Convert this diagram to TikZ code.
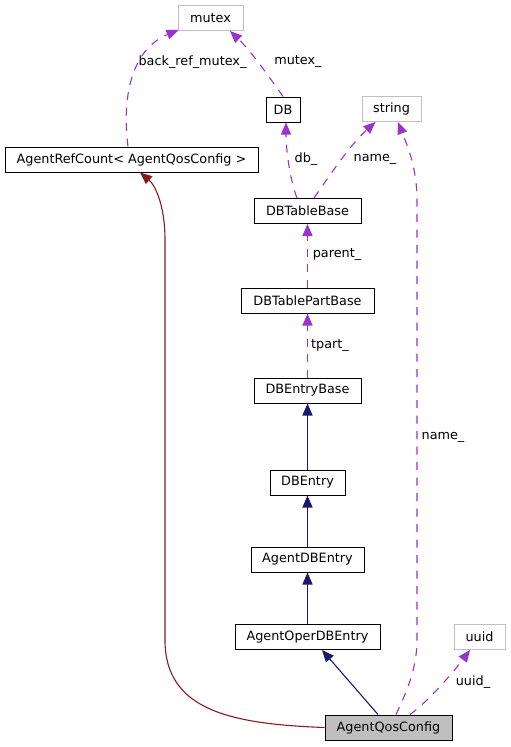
\documentclass[tikz,border=0pt]{standalone}
\usepackage{fontspec}
\setmainfont{DejaVu Sans}
\usetikzlibrary{arrows.meta}
\definecolor{navyedge}{HTML}{191970}
\definecolor{purpleedge}{HTML}{9A32CD}
\definecolor{rededge}{HTML}{8B1A1A}
\definecolor{graybox}{HTML}{BFBFBF}
\begin{document}
\begin{tikzpicture}[x=1pt,y=-1pt,
  font=\fontsize{12.8}{15}\selectfont,
  cls/.style={draw=black,line width=1pt,fill=white,inner sep=0pt,minimum height=25pt},
  ext/.style={draw=graybox,line width=1pt,fill=white,inner sep=0pt,minimum height=25pt},
  focus/.style={draw=black,line width=1pt,fill=graybox,inner sep=0pt,minimum height=25pt},
  tipstyle/.style={-{Triangle[length=12pt,width=10pt]}},
  inherit/.style={tipstyle,color=navyedge,line width=1.1pt},
  uses/.style={tipstyle,color=purpleedge,line width=1.1pt,dash pattern=on 8pt off 7.5pt},
  priv/.style={tipstyle,color=rededge,line width=1.1pt},
  vert/.style={line width=1.5pt},
  lbl/.style={inner sep=0pt,anchor=center}]
\useasboundingbox (0,0) rectangle (511,747);
\node[ext,minimum width=65pt] (mutex) at (210.5,18) {mutex};
\node[cls,minimum width=34pt] (db) at (283,109.5) {DB};
\node[ext,minimum width=59pt] (string) at (391.5,109) {string};
\node[cls,minimum width=253pt] (arc) at (131.5,159.5) {AgentRefCount< AgentQosConfig >};
\node[cls,minimum width=107pt] (dbtb) at (307.5,211) {DBTableBase};
\node[cls,minimum width=133pt] (dbtpb) at (307.5,300.5) {DBTablePartBase};
\node[cls,minimum width=107pt] (dbeb) at (307.5,390.5) {DBEntryBase};
\node[cls,minimum width=75pt] (dbe) at (307.5,482.5) {DBEntry};
\node[cls,minimum width=113pt] (adbe) at (307.5,559.5) {AgentDBEntry};
\node[cls,minimum width=145pt] (aode) at (307.5,637) {AgentOperDBEntry};
\node[ext,minimum width=51pt] (uuid) at (479.5,637) {uuid};
\node[focus,minimum width=127pt] (aqc) at (388.5,727.5) {AgentQosConfig};

% usage edges
\draw[uses] ([xshift=-3.5pt]arc.north) .. controls (122,100) and (130,50) .. ([xshift=1pt,yshift=1pt]mutex.south west);
\node[lbl] (lbrm) at (192.5,62) {back\_ref\_mutex\_};
\draw[uses] (db.north) .. controls (268,75) and (250,50) .. ([xshift=19.5pt]mutex.south);
\node[lbl] (lmutex) at (298,62) {mutex\_};
\draw[uses] ([xshift=-10.5pt]dbtb.north) .. controls (290,180) and (286,150) .. ([xshift=3pt]db.south);
\node[lbl] (ldb) at (306,159) {db\_};
\draw[uses] ([xshift=6.5pt]dbtb.north) .. controls (330,175) and (350,145) .. ([xshift=-16pt]string.south);
\node[lbl] (lname1) at (375,159) {name\_};
\draw[uses,vert] (dbtpb.north) -- (dbtb.south);
\node[lbl] (lparent) at (337,255) {parent\_};
\draw[uses,vert] (dbeb.north) -- (dbtpb.south);
\node[lbl] (ltpart) at (330,346) {tpart\_};
\draw[uses] ([xshift=7.5pt]aqc.north) .. controls (405,695) and (417,670) .. (417,640) -- (417,200) .. controls (417,165) and (405,140) .. ([xshift=6.5pt]string.south);
\node[lbl] (lname2) at (443,437) {name\_};
\draw[uses] ([xshift=21.5pt]aqc.north) .. controls (430,700) and (455,670) .. ([xshift=-9.5pt]uuid.south);
\node[lbl] (luuid) at (473,682) {uuid\_};

% inheritance edges
\draw[inherit,vert] (dbe.north) -- (dbeb.south);
\draw[inherit,vert] (adbe.north) -- (dbe.south);
\draw[inherit,vert] (aode.north) -- (adbe.south);
\draw[inherit] ([xshift=-10.5pt]aqc.north) -- ([xshift=14.5pt]aode.south);

% private inheritance
\draw[priv] (aqc.west) .. controls (230,724) and (165,710) .. (165,640) -- (165,240) .. controls (165,205) and (155,185) .. ([xshift=8.5pt]arc.south);
\end{tikzpicture}
\end{document}
